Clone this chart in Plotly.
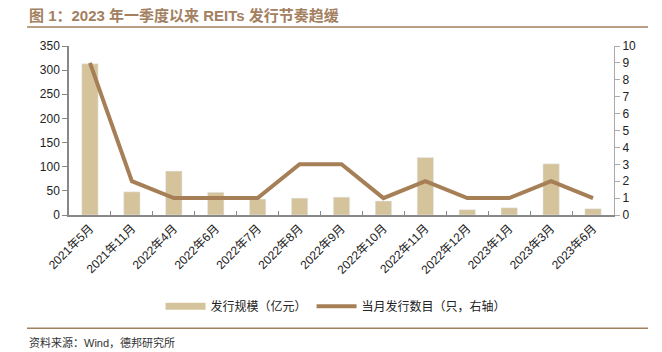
import plotly.graph_objects as go

categories = ["2021年5月", "2021年11月", "2022年4月", "2022年6月", "2022年7月", "2022年8月",
              "2022年9月", "2022年10月", "2022年11月", "2022年12月", "2023年1月", "2023年3月", "2023年6月"]
scale = [313, 48, 91, 47, 33, 35, 37, 29, 119, 11, 15, 106, 13]
counts = [9, 2, 1, 1, 1, 3, 3, 1, 2, 1, 1, 2, 1]

BAR = "#D5C49B"
LINE = "#A67F57"
BROWN = "#A3805F"
FONT = "Liberation Sans, Arial, Noto Sans CJK SC, sans-serif"

L, R, T, B = 69, 48, 46, 136.5
W, H = 662, 352
pw, ph = W - L - R, H - T - B

def px(x):
    return (x - L) / pw

def py(y):
    return (H - B - y) / ph

fig = go.Figure()
fig.add_trace(go.Bar(x=categories, y=scale, name="发行规模（亿元）", marker_color=BAR,
                     width=0.39, yaxis="y", showlegend=False, legendgroup="bar"))
fig.add_trace(go.Scatter(x=[None], y=[None], name="发行规模（亿元）", mode="lines",
                         line=dict(color=BAR, width=7), legendgroup="bar", yaxis="y"))
fig.add_trace(go.Scatter(x=categories, y=counts, name="当月发行数目（只，右轴）", mode="lines",
                         line=dict(color=LINE, width=4), yaxis="y2"))

fig.update_layout(
    width=W, height=H,
    margin=dict(l=L, r=R, t=T, b=B),
    plot_bgcolor="white", paper_bgcolor="white",
    font=dict(family=FONT, size=12, color="#222"),
    xaxis=dict(type="category", showline=True, linecolor="#888", linewidth=1.5,
               ticks="inside", ticklen=4, tickcolor="#888", tickson="boundaries",
               tickangle=-45, tickfont=dict(size=12), showgrid=False,
               range=[-0.5, 12.5]),
    yaxis=dict(range=[0, 350], dtick=50, showline=True, linecolor="#888", linewidth=1.5,
               ticks="outside", ticklen=5, tickcolor="#888", showgrid=False,
               zeroline=False, tickfont=dict(size=12)),
    yaxis2=dict(range=[0, 10], dtick=1, overlaying="y", side="right", showline=True,
                linecolor="#aaa", linewidth=1, ticks="outside", ticklen=5, tickcolor="#aaa",
                showgrid=False, zeroline=False, tickfont=dict(size=12)),
    legend=dict(orientation="h", x=0.49, xanchor="center", y=py(307), yanchor="middle",
                font=dict(size=12, family="Noto Sans CJK SC"), itemwidth=40,
                traceorder="normal", tracegroupgap=0),
    showlegend=True,
)

fig.add_annotation(xref="paper", yref="paper", x=px(27), y=py(15), xanchor="left", yanchor="middle",
                   text="<b>图 1：2023 年一季度以来 REITs 发行节奏趋缓</b>", showarrow=False,
                   font=dict(size=15, color=BROWN, family="Liberation Sans, Noto Sans CJK SC"))
fig.add_annotation(xref="paper", yref="paper", x=px(27), y=py(343), xanchor="left", yanchor="middle",
                   text="资料来源：Wind，德邦研究所", showarrow=False,
                   font=dict(size=11, color="#333", family="Liberation Sans, Noto Sans CJK SC"))

for yy in (27, 329):
    fig.add_shape(type="line", xref="paper", yref="paper", x0=px(27), x1=px(648), y0=py(yy), y1=py(yy),
                  line=dict(color=BROWN, width=1.5))

fig.write_html("out.html")
